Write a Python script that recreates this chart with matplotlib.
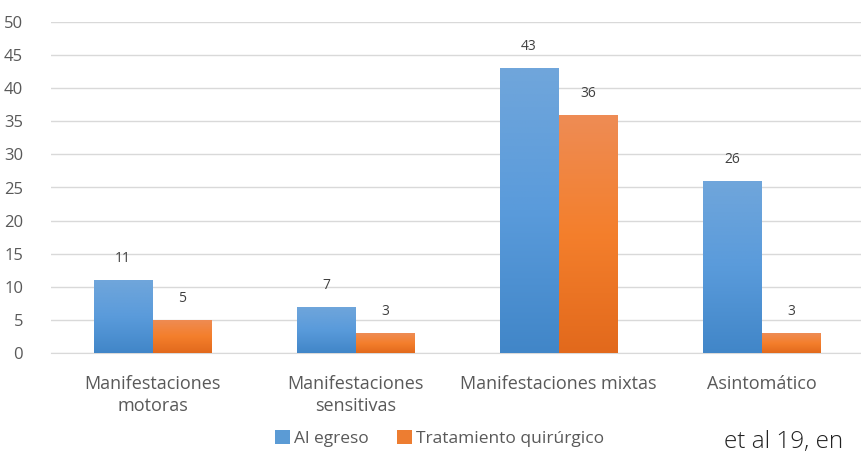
import numpy as np
import matplotlib
matplotlib.use('Agg')
import matplotlib.pyplot as plt
from matplotlib.colors import LinearSegmentedColormap

categorias = ['Manifestaciones\nmotoras', 'Manifestaciones\nsensitivas',
              'Manifestaciones mixtas', 'Asintomático']
al_egreso = [11, 7, 43, 26]
tratamiento = [5, 3, 36, 3]
series_nombres = ['Al egreso', 'Tratamiento quirúrgico']

plt.rcParams['font.family'] = ['Open Sans', 'DejaVu Sans']

fig = plt.figure(figsize=(8.62, 4.54), dpi=100)
ax = fig.add_axes([51 / 862, 101 / 454, 812 / 862, 331 / 454])

x = np.arange(len(categorias))
w = 0.29

# gradient colours (bottom -> top)
azul = LinearSegmentedColormap.from_list('azul', ['#4186C8', '#5A9BDB', '#70A6DB'])
naranja = LinearSegmentedColormap.from_list('naranja', ['#E2691C', '#F47F2C', '#EE8C55'])
grad = np.linspace(0, 1, 256).reshape(-1, 1)

b1 = ax.bar(x - w / 2, al_egreso, w, color='#5B9BD5', label=series_nombres[0], zorder=3)
b2 = ax.bar(x + w / 2, tratamiento, w, color='#ED7D31', label=series_nombres[1], zorder=3)

for bars, cmap in ((b1, azul), (b2, naranja)):
    for r in bars:
        x0, y0 = r.get_x(), r.get_y()
        im = ax.imshow(grad, cmap=cmap, origin='lower', aspect='auto',
                       extent=[x0, x0 + r.get_width(), y0, y0 + r.get_height()],
                       zorder=3.5)
        im.set_clip_path(r)
    for r in bars:
        ax.annotate(str(int(r.get_height())),
                    (r.get_x() + r.get_width() / 2, r.get_height()),
                    xytext=(0, 10), textcoords='offset points',
                    ha='center', va='bottom', fontsize=10, color='#404040')

ax.set_xlim(-0.5, len(categorias) - 0.5)
ax.set_ylim(0, 50)
ax.set_yticks(range(0, 51, 5))
ax.grid(axis='y', color='#D9D9D9', linewidth=1, zorder=0)
for s in ['top', 'right', 'left']:
    ax.spines[s].set_visible(False)
ax.spines['bottom'].set_color('#D9D9D9')
ax.tick_params(axis='both', length=0, labelsize=12, labelcolor='#595959')
ax.tick_params(axis='y', pad=20)
ax.tick_params(axis='x', pad=16, labelsize=13)
ax.set_xticks(x)
ax.set_xticklabels(categorias, linespacing=1.3)

leg = fig.legend(handles=[b1, b2], loc='lower center', bbox_to_anchor=(0.51, -0.012),
                 ncol=2, frameon=False, fontsize=12.5, handlelength=0.85, handleheight=0.85,
                 handletextpad=0.25, columnspacing=1.6, labelcolor='#595959',
                 borderpad=0.2)

fig.text(724 / 862, 6 / 454, 'et al 19, en', fontsize=17.5, color='#222222',
         va='baseline', fontweight='light')

fig.savefig('out.png', dpi=100)
